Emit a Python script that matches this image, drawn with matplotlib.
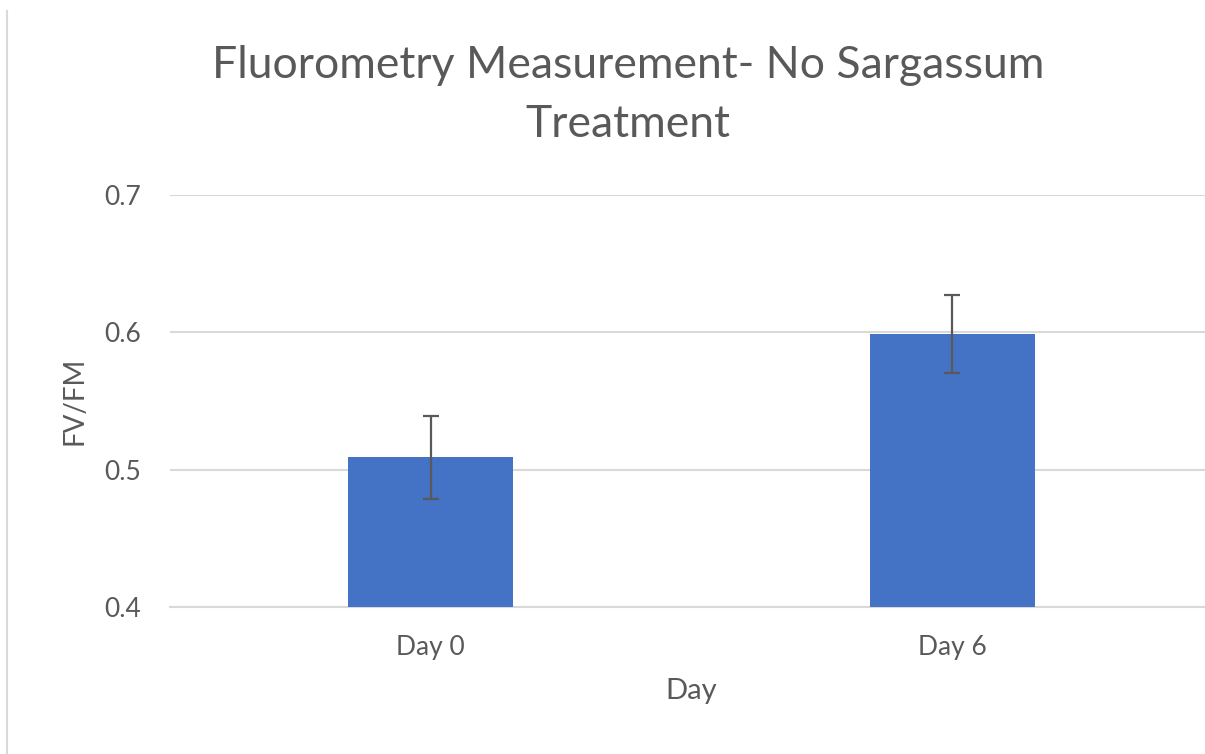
import matplotlib.pyplot as plt
from matplotlib.lines import Line2D

# dados
days = ["Day 0", "Day 6"]
fvfm = [0.509, 0.599]
err = [0.030, 0.0285]
yticks = [0.4, 0.5, 0.6, 0.7]

grey = "#595959"
plt.rcParams['font.family'] = ['Lato', 'DejaVu Sans']

fig = plt.figure(figsize=(12.05, 7.54), dpi=100)
ax = fig.add_axes([170 / 1205, 147 / 754, 1043 / 1205, 412 / 754])

x = list(range(len(days)))
ax.bar(x, fvfm, width=0.316, color="#4472C4", zorder=3)
ax.errorbar(x, fvfm, yerr=err, fmt='none', ecolor=grey, elinewidth=1.6,
            capsize=5.5, capthick=1.6, zorder=4)

ax.set_xlim(-0.5, 1.5)
ax.set_ylim(0.4, 0.7)
ax.set_yticks(yticks)
ax.set_yticklabels(["%.1f" % v for v in yticks])
ax.set_xticks(x)
ax.set_xticklabels(days)
ax.grid(axis='y', color="#d9d9d9", linewidth=1.5, zorder=0)
for s in ['top', 'right', 'left']:
    ax.spines[s].set_visible(False)
ax.spines['bottom'].set_color("#d9d9d9")
ax.spines['bottom'].set_linewidth(1.5)
ax.tick_params(length=0, colors=grey, labelsize=19)
ax.tick_params(axis='y', pad=21)
ax.tick_params(axis='x', pad=20)

ax.set_ylabel("FV/FM", fontsize=20, color=grey, labelpad=12)
ax.set_xlabel("Day", fontsize=21, color=grey, labelpad=13)

fig.text(628 / 1205, 1 - 95 / 754, "Fluorometry Measurement- No Sargassum\nTreatment",
         ha='center', va='center', fontsize=32, color=grey, linespacing=1.56)

# borda esquerda da moldura
fig.add_artist(Line2D([7 / 1205, 7 / 1205], [0, 1 - 11 / 754],
                      transform=fig.transFigure, color="#d9d9d9", linewidth=1.5))

fig.savefig("out.png", dpi=100)
